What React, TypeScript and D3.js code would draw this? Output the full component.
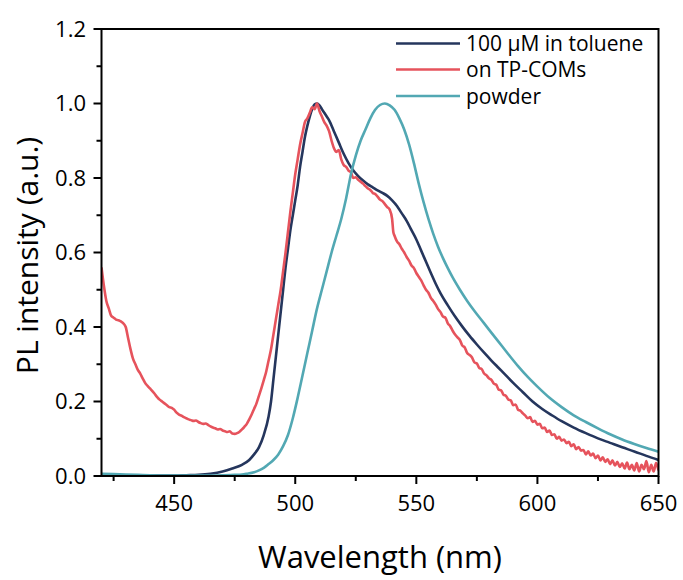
import React from "react";
import * as d3 from "d3";

type P = [number, number];

const seriesNames = ["100 µM in toluene", "on TP-COMs", "powder"];
const seriesColors = ["#25365d", "#e6535c", "#52a8b3"];

const xTickValues = [450, 500, 550, 600, 650];
const xMinorTicks = [425, 475, 525, 575, 625];
const yTickValues = [0, 0.2, 0.4, 0.6, 0.8, 1.0, 1.2];
const yMinorTicks = [0.1, 0.3, 0.5, 0.7, 0.9, 1.1];

const toluene: P[] = [
  [420, 0.003], [430, 0.002], [440, 0.001], [450, 0.001], [455, 0.002], [460, 0.003],
  [465, 0.006], [470, 0.012], [474, 0.02], [478, 0.03], [481, 0.043], [483, 0.058],
  [485, 0.077], [487, 0.11], [489, 0.16], [490, 0.2], [491, 0.26], [492, 0.32],
  [493, 0.38], [494, 0.44], [495, 0.5], [496, 0.56], [497, 0.61], [498, 0.66],
  [499, 0.7], [500, 0.74], [501, 0.78], [502, 0.83], [503, 0.87], [504, 0.91],
  [505, 0.94], [506, 0.965], [507, 0.985], [508, 0.998], [509, 1.0], [510, 0.995],
  [511, 0.985], [512, 0.975], [513, 0.965], [514, 0.955], [516, 0.925], [518, 0.895],
  [520, 0.865], [522, 0.84], [524, 0.82], [526, 0.805], [528, 0.793], [530, 0.783],
  [532, 0.775], [534, 0.767], [536, 0.76], [538, 0.752], [540, 0.74], [542, 0.725],
  [544, 0.705], [546, 0.685], [548, 0.66], [550, 0.635], [552, 0.605], [554, 0.575],
  [556, 0.545], [558, 0.516], [560, 0.49], [563, 0.458], [566, 0.428], [569, 0.401],
  [572, 0.376], [575, 0.353], [578, 0.331], [581, 0.31], [584, 0.29], [587, 0.27],
  [590, 0.25], [594, 0.225], [598, 0.2], [602, 0.18], [606, 0.163], [610, 0.147],
  [615, 0.13], [620, 0.115], [625, 0.101], [630, 0.089], [635, 0.077], [640, 0.066],
  [645, 0.054], [650, 0.043],
];

const tpComs: P[] = [
  [420, 0.56], [421, 0.51], [422, 0.47], [423, 0.45], [424, 0.43], [425, 0.425],
  [426, 0.42], [427, 0.418], [428, 0.415], [429, 0.41], [430, 0.4], [431, 0.37],
  [432, 0.34], [433, 0.315], [434, 0.3], [435, 0.285], [436, 0.275], [437, 0.262],
  [438, 0.25], [439, 0.242], [440, 0.235], [441, 0.228], [442, 0.22], [443, 0.212],
  [444, 0.205], [445, 0.2], [446, 0.195], [447, 0.19], [448, 0.185], [449, 0.183],
  [450, 0.178], [451, 0.17], [452, 0.165], [453, 0.162], [454, 0.158], [455, 0.155],
  [456, 0.152], [457, 0.15], [458, 0.148], [459, 0.149], [460, 0.145], [461, 0.142],
  [462, 0.14], [463, 0.141], [464, 0.137], [465, 0.133], [466, 0.13], [467, 0.128],
  [468, 0.125], [469, 0.126], [470, 0.122], [471, 0.12], [472, 0.118], [473, 0.12],
  [474, 0.114], [475, 0.113], [476, 0.115], [477, 0.119], [478, 0.125], [479, 0.132],
  [480, 0.14], [481, 0.152], [482, 0.165], [483, 0.18], [484, 0.195], [485, 0.215],
  [486, 0.235], [487, 0.257], [488, 0.28], [489, 0.31], [490, 0.34], [491, 0.38],
  [492, 0.42], [493, 0.46], [494, 0.5], [495, 0.55], [496, 0.6], [497, 0.655],
  [498, 0.71], [499, 0.76], [500, 0.81], [501, 0.85], [502, 0.89], [503, 0.92],
  [504, 0.95], [505, 0.96], [506, 0.975], [507, 0.99], [508, 0.985], [509, 1.0],
  [510, 0.98], [511, 0.965], [512, 0.95], [513, 0.94], [514, 0.925], [515, 0.9],
  [516, 0.88], [517, 0.87], [518, 0.875], [519, 0.85], [520, 0.835], [521, 0.83],
  [522, 0.82], [523, 0.815], [524, 0.8], [525, 0.802], [526, 0.795], [527, 0.79],
  [528, 0.785], [529, 0.778], [530, 0.772], [531, 0.768], [532, 0.76], [533, 0.757],
  [534, 0.75], [535, 0.742], [536, 0.738], [537, 0.73], [538, 0.722], [539, 0.715],
  [540, 0.69], [540.5, 0.655], [541, 0.645], [542, 0.63], [543, 0.622], [544, 0.61],
  [545, 0.6], [546, 0.588], [547, 0.578], [548, 0.565], [549, 0.558], [550, 0.545],
  [551, 0.535], [552, 0.525], [553, 0.512], [554, 0.5], [555, 0.492], [556, 0.478],
  [557, 0.47], [558, 0.46], [559, 0.448], [560, 0.44], [561, 0.428], [562, 0.425],
  [563, 0.41], [564, 0.402], [565, 0.39], [566, 0.38], [567, 0.372], [568, 0.365],
  [569, 0.35], [570, 0.345], [571, 0.33], [572, 0.325], [573, 0.318], [574, 0.305],
  [575, 0.302], [576, 0.29], [577, 0.287], [578, 0.275], [579, 0.27], [580, 0.262],
  [581, 0.258], [582, 0.248], [583, 0.245], [584, 0.232], [585, 0.23], [586, 0.218],
  [587, 0.215], [588, 0.205], [589, 0.203], [590, 0.19], [591, 0.192], [592, 0.178],
  [593, 0.175], [594, 0.168], [595, 0.162], [596, 0.155], [597, 0.158], [598, 0.145],
  [599, 0.148], [600, 0.138], [601, 0.14], [602, 0.128], [603, 0.13], [604, 0.118],
  [605, 0.122], [606, 0.11], [607, 0.112], [608, 0.1], [609, 0.105], [610, 0.095],
  [611, 0.098], [612, 0.088], [613, 0.092], [614, 0.08], [615, 0.085], [616, 0.072],
  [617, 0.078], [618, 0.068], [619, 0.07], [620, 0.058], [621, 0.066], [622, 0.055],
  [623, 0.06], [624, 0.048], [625, 0.055], [626, 0.042], [627, 0.05], [628, 0.038],
  [629, 0.045], [630, 0.032], [631, 0.042], [632, 0.028], [633, 0.038], [634, 0.024],
  [635, 0.034], [636, 0.02], [637, 0.036], [638, 0.018], [639, 0.03], [640, 0.015],
  [641, 0.035], [642, 0.012], [643, 0.03], [644, 0.018], [645, 0.04], [646, 0.01],
  [647, 0.03], [648, 0.012], [649, 0.035], [650, 0.015],
];

const powder: P[] = [
  [420, 0.006], [425, 0.005], [430, 0.004], [435, 0.003], [440, 0.002], [450, 0.001],
  [460, 0.001], [470, 0.002], [475, 0.003], [478, 0.004], [480, 0.006], [483, 0.01],
  [485, 0.015], [487, 0.022], [489, 0.032], [491, 0.043], [493, 0.058], [495, 0.08],
  [497, 0.11], [499, 0.155], [501, 0.21], [503, 0.27], [505, 0.33], [507, 0.39],
  [509, 0.45], [511, 0.5], [513, 0.55], [515, 0.6], [517, 0.645], [519, 0.69],
  [521, 0.745], [523, 0.81], [525, 0.86], [527, 0.9], [529, 0.93], [531, 0.96],
  [533, 0.983], [535, 0.996], [537, 1.0], [539, 0.995], [541, 0.983], [543, 0.96],
  [545, 0.93], [547, 0.89], [549, 0.84], [551, 0.785], [553, 0.735], [555, 0.69],
  [557, 0.65], [559, 0.615], [561, 0.585], [563, 0.558], [565, 0.533], [568, 0.5],
  [571, 0.47], [574, 0.443], [577, 0.418], [580, 0.393], [584, 0.36], [588, 0.327],
  [592, 0.295], [596, 0.266], [600, 0.24], [605, 0.21], [610, 0.185], [615, 0.163],
  [620, 0.145], [625, 0.128], [630, 0.112], [635, 0.098], [640, 0.086], [645, 0.075],
  [650, 0.065],
];

const allSeries = [toluene, tpComs, powder];

const W = 683;
const H = 580;
const M = { left: 101.5, right: 658.5, top: 29, bottom: 476 };
const FONT = "'Open Sans', 'Noto Sans', sans-serif";

export default function App() {
  const x = d3.scaleLinear().domain([420, 650]).range([M.left, M.right]);
  const y = d3.scaleLinear().domain([0, 1.2]).range([M.bottom, M.top]);
  const line = d3
    .line<P>()
    .x((d) => x(d[0]))
    .y((d) => y(d[1]))
    .curve(d3.curveMonotoneX);

  const legendY = [43.5, 69.5, 96];

  return (
    <svg
      width={W}
      height={H}
      style={{ position: "absolute", left: 0, top: 0, background: "#fff" }}
      fontFamily={FONT}
    >
      <defs>
        <clipPath id="plot">
          <rect x={M.left} y={M.top} width={M.right - M.left} height={M.bottom - M.top} />
        </clipPath>
      </defs>
      <g clipPath="url(#plot)">
        {allSeries.map((s, i) => (
          <path
            key={i}
            d={line(s) || ""}
            fill="none"
            stroke={seriesColors[i]}
            strokeWidth={2.6}
            strokeLinejoin="round"
          />
        ))}
      </g>
      <rect
        x={M.left}
        y={M.top}
        width={M.right - M.left}
        height={M.bottom - M.top}
        fill="none"
        stroke="#000"
        strokeWidth={2}
      />
      {xTickValues.map((t) => (
        <g key={"xt" + t}>
          <line x1={x(t)} x2={x(t)} y1={M.bottom} y2={M.bottom + 8} stroke="#000" strokeWidth={2} />
          <text x={x(t)} y={511} textAnchor="middle" fontSize={22} fill="#000">
            {t}
          </text>
        </g>
      ))}
      {xMinorTicks.map((t) => (
        <line key={"xm" + t} x1={x(t)} x2={x(t)} y1={M.bottom} y2={M.bottom + 5} stroke="#000" strokeWidth={2} />
      ))}
      {yTickValues.map((t) => (
        <g key={"yt" + t}>
          <line x1={M.left - 8} x2={M.left} y1={y(t)} y2={y(t)} stroke="#000" strokeWidth={2} />
          <text x={86} y={y(t)} dy="0.36em" textAnchor="end" fontSize={22} fill="#000">
            {t.toFixed(1)}
          </text>
        </g>
      ))}
      {yMinorTicks.map((t) => (
        <line key={"ym" + t} x1={M.left - 5} x2={M.left} y1={y(t)} y2={y(t)} stroke="#000" strokeWidth={2} />
      ))}
      <text x={(M.left + M.right) / 2} y={568} textAnchor="middle" fontSize={31} fill="#000">
        Wavelength (nm)
      </text>
      <text
        transform={`translate(38, ${(M.top + M.bottom) / 2 + 3}) rotate(-90)`}
        textAnchor="middle"
        fontSize={30}
        fill="#000"
      >
        PL intensity (a.u.)
      </text>
      {seriesNames.map((n, i) => (
        <g key={"lg" + i}>
          <line x1={396} x2={460} y1={legendY[i]} y2={legendY[i]} stroke={seriesColors[i]} strokeWidth={2.6} />
          <text x={466} y={legendY[i]} dy="0.36em" fontSize={21} fill="#000">
            {n}
          </text>
        </g>
      ))}
    </svg>
  );
}
